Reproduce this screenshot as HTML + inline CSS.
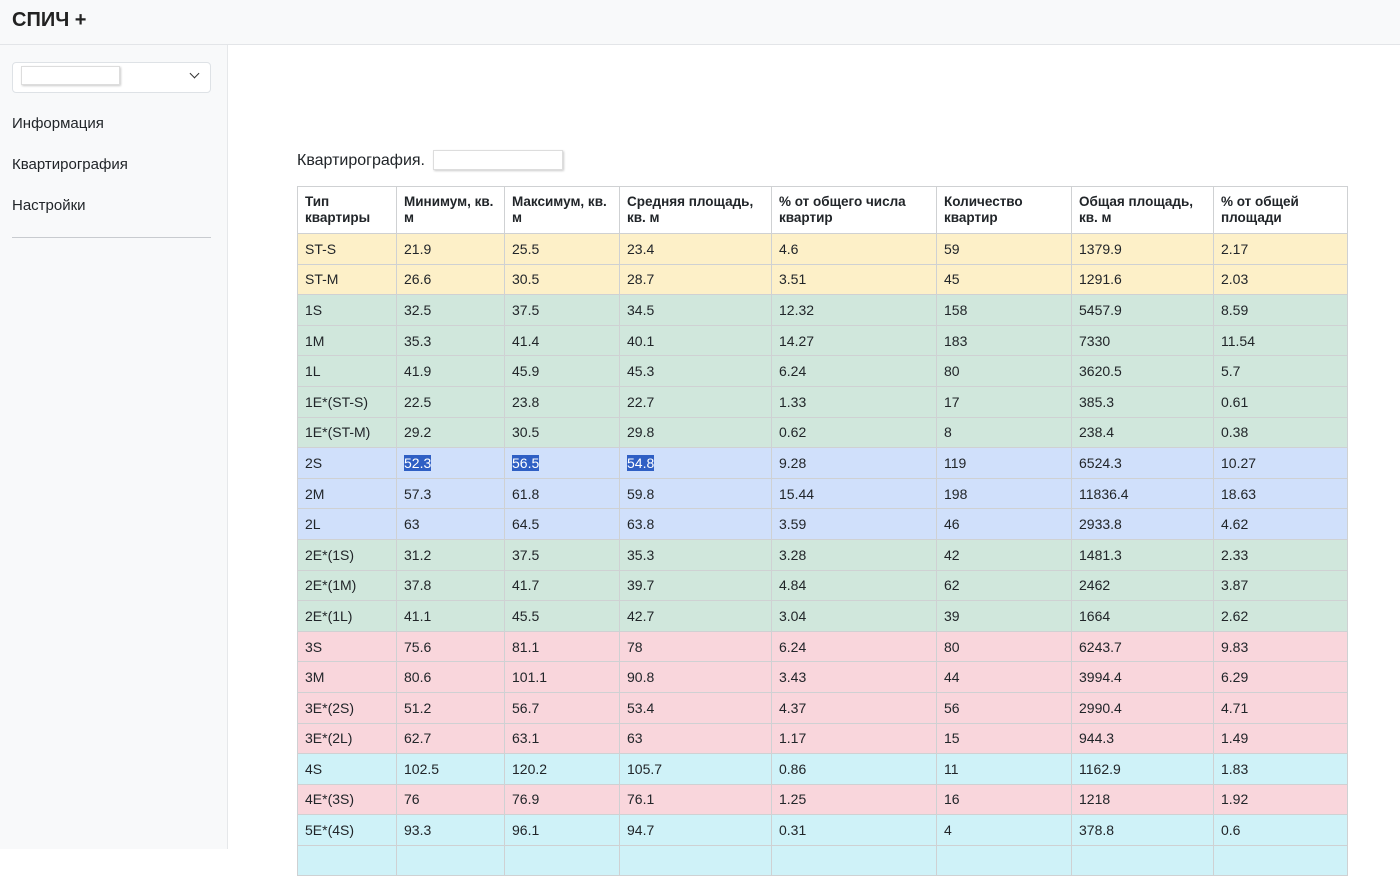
<!DOCTYPE html>
<html><head><meta charset="utf-8"><style>
*{box-sizing:border-box;margin:0;padding:0}
body{width:1400px;height:849px;overflow:hidden;background:#fff;font-family:"Liberation Sans","Noto Sans CJK SC",sans-serif;color:#212529;position:relative}
#hdr{position:absolute;left:0;top:0;width:1400px;height:45px;background:#f8f9fa;border-bottom:1px solid #e3e5e8}
#hdr span{position:absolute;left:12px;top:9px;font-size:20px;font-weight:bold;color:#222}
#side{position:absolute;left:0;top:45px;width:228px;height:804px;background:#f8f9fa;border-right:1px solid #e6e8ea}
#sel{position:absolute;left:12px;top:17px;width:199px;height:31px;border:1px solid #dee2e6;border-radius:4px;background:#fff}
#sel .in{position:absolute;left:8px;top:3px;width:99px;height:19px;border:1px solid #ddd;box-shadow:1px 1px 2px #ccc;background:#fff}
#sel .ch{position:absolute;right:12px;top:7px;width:7px;height:7px;border-right:1.5px solid #333;border-bottom:1.5px solid #333;transform:rotate(45deg)}
.nav{position:absolute;left:12px;font-size:15px;color:#212529}
#hr{position:absolute;left:12px;top:192px;width:199px;height:1px;background:#c8cbcf}
#title{position:absolute;left:297px;top:152px;font-size:16px}
#tbox{position:absolute;left:433px;top:150px;width:130px;height:20px;border:1px solid #ddd;box-shadow:1px 1px 2px #ccc;background:#fff}
table{position:absolute;left:297px;top:186px;border-collapse:collapse;font-size:14px}
td,th{border:1px solid #cfd1d3;padding:0 7px;text-align:left;vertical-align:middle}
th{height:47px;font-weight:bold;font-size:13.5px;line-height:16px;background:#fff}
td{height:30.6px}
.y td{background:#fdf0c8}.g td{background:#d0e7dc}.b td{background:#d0e0fb}.p td{background:#f9d6dc}.c td{background:#cff2f8}
.hl{background:#2f5fc4;color:#fff}
</style></head><body>
<div id="hdr"><span>СПИЧ +</span></div>
<div id="side">
<div id="sel"><div class="in"></div><div class="ch"></div></div>
<div class="nav" style="top:70px">Информация</div>
<div class="nav" style="top:111px">Квартирография</div>
<div class="nav" style="top:152px">Настройки</div>
<div id="hr"></div>
</div>
<div id="title">Квартирография.</div>
<div id="tbox"></div>
<table>
<colgroup><col style="width:99px"><col style="width:108px"><col style="width:115px"><col style="width:152px"><col style="width:165px"><col style="width:135px"><col style="width:142px"><col style="width:134px"></colgroup>
<tr><th>Тип<br>квартиры</th><th>Минимум, кв.<br>м</th><th>Максимум, кв.<br>м</th><th>Средняя площадь,<br>кв. м</th><th>% от общего числа<br>квартир</th><th>Количество<br>квартир</th><th>Общая площадь,<br>кв. м</th><th>% от общей<br>площади</th></tr>
<tr class="y"><td>ST-S</td><td>21.9</td><td>25.5</td><td>23.4</td><td>4.6</td><td>59</td><td>1379.9</td><td>2.17</td></tr>
<tr class="y"><td>ST-M</td><td>26.6</td><td>30.5</td><td>28.7</td><td>3.51</td><td>45</td><td>1291.6</td><td>2.03</td></tr>
<tr class="g"><td>1S</td><td>32.5</td><td>37.5</td><td>34.5</td><td>12.32</td><td>158</td><td>5457.9</td><td>8.59</td></tr>
<tr class="g"><td>1M</td><td>35.3</td><td>41.4</td><td>40.1</td><td>14.27</td><td>183</td><td>7330</td><td>11.54</td></tr>
<tr class="g"><td>1L</td><td>41.9</td><td>45.9</td><td>45.3</td><td>6.24</td><td>80</td><td>3620.5</td><td>5.7</td></tr>
<tr class="g"><td>1E*(ST-S)</td><td>22.5</td><td>23.8</td><td>22.7</td><td>1.33</td><td>17</td><td>385.3</td><td>0.61</td></tr>
<tr class="g"><td>1E*(ST-M)</td><td>29.2</td><td>30.5</td><td>29.8</td><td>0.62</td><td>8</td><td>238.4</td><td>0.38</td></tr>
<tr class="b"><td>2S</td><td><span class="hl">52.3</span></td><td><span class="hl">56.5</span></td><td><span class="hl">54.8</span></td><td>9.28</td><td>119</td><td>6524.3</td><td>10.27</td></tr>
<tr class="b"><td>2M</td><td>57.3</td><td>61.8</td><td>59.8</td><td>15.44</td><td>198</td><td>11836.4</td><td>18.63</td></tr>
<tr class="b"><td>2L</td><td>63</td><td>64.5</td><td>63.8</td><td>3.59</td><td>46</td><td>2933.8</td><td>4.62</td></tr>
<tr class="g"><td>2E*(1S)</td><td>31.2</td><td>37.5</td><td>35.3</td><td>3.28</td><td>42</td><td>1481.3</td><td>2.33</td></tr>
<tr class="g"><td>2E*(1M)</td><td>37.8</td><td>41.7</td><td>39.7</td><td>4.84</td><td>62</td><td>2462</td><td>3.87</td></tr>
<tr class="g"><td>2E*(1L)</td><td>41.1</td><td>45.5</td><td>42.7</td><td>3.04</td><td>39</td><td>1664</td><td>2.62</td></tr>
<tr class="p"><td>3S</td><td>75.6</td><td>81.1</td><td>78</td><td>6.24</td><td>80</td><td>6243.7</td><td>9.83</td></tr>
<tr class="p"><td>3M</td><td>80.6</td><td>101.1</td><td>90.8</td><td>3.43</td><td>44</td><td>3994.4</td><td>6.29</td></tr>
<tr class="p"><td>3E*(2S)</td><td>51.2</td><td>56.7</td><td>53.4</td><td>4.37</td><td>56</td><td>2990.4</td><td>4.71</td></tr>
<tr class="p"><td>3E*(2L)</td><td>62.7</td><td>63.1</td><td>63</td><td>1.17</td><td>15</td><td>944.3</td><td>1.49</td></tr>
<tr class="c"><td>4S</td><td>102.5</td><td>120.2</td><td>105.7</td><td>0.86</td><td>11</td><td>1162.9</td><td>1.83</td></tr>
<tr class="p"><td>4E*(3S)</td><td>76</td><td>76.9</td><td>76.1</td><td>1.25</td><td>16</td><td>1218</td><td>1.92</td></tr>
<tr class="c"><td>5E*(4S)</td><td>93.3</td><td>96.1</td><td>94.7</td><td>0.31</td><td>4</td><td>378.8</td><td>0.6</td></tr>
<tr class="c"><td>&nbsp;</td><td></td><td></td><td></td><td></td><td></td><td></td><td></td></tr>
</table>
</body></html>
